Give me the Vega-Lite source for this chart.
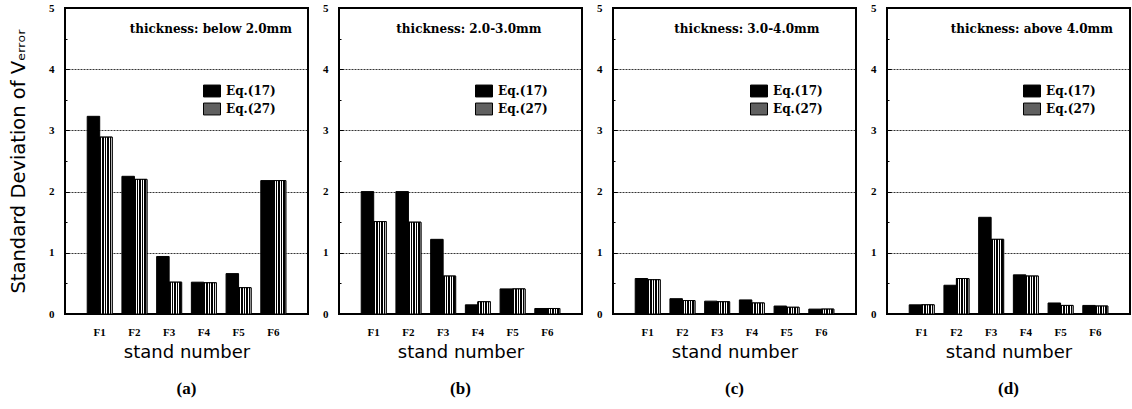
{
  "$schema": "https://vega.github.io/schema/vega-lite/v6.json",
  "padding": {"left": 7, "top": 1, "right": 0, "bottom": 0},
  "background": "white",
  "spacing": 12,
  "datasets": {
    "a": [
      {"stand": "F1", "eq": "Eq.(17)", "sd": 3.23}, {"stand": "F1", "eq": "Eq.(27)", "sd": 2.89},
      {"stand": "F2", "eq": "Eq.(17)", "sd": 2.25}, {"stand": "F2", "eq": "Eq.(27)", "sd": 2.20},
      {"stand": "F3", "eq": "Eq.(17)", "sd": 0.94}, {"stand": "F3", "eq": "Eq.(27)", "sd": 0.52},
      {"stand": "F4", "eq": "Eq.(17)", "sd": 0.52}, {"stand": "F4", "eq": "Eq.(27)", "sd": 0.51},
      {"stand": "F5", "eq": "Eq.(17)", "sd": 0.66}, {"stand": "F5", "eq": "Eq.(27)", "sd": 0.43},
      {"stand": "F6", "eq": "Eq.(17)", "sd": 2.18}, {"stand": "F6", "eq": "Eq.(27)", "sd": 2.18}
    ],
    "b": [
      {"stand": "F1", "eq": "Eq.(17)", "sd": 2.00}, {"stand": "F1", "eq": "Eq.(27)", "sd": 1.51},
      {"stand": "F2", "eq": "Eq.(17)", "sd": 2.00}, {"stand": "F2", "eq": "Eq.(27)", "sd": 1.50},
      {"stand": "F3", "eq": "Eq.(17)", "sd": 1.22}, {"stand": "F3", "eq": "Eq.(27)", "sd": 0.62},
      {"stand": "F4", "eq": "Eq.(17)", "sd": 0.15}, {"stand": "F4", "eq": "Eq.(27)", "sd": 0.20},
      {"stand": "F5", "eq": "Eq.(17)", "sd": 0.41}, {"stand": "F5", "eq": "Eq.(27)", "sd": 0.41},
      {"stand": "F6", "eq": "Eq.(17)", "sd": 0.09}, {"stand": "F6", "eq": "Eq.(27)", "sd": 0.09}
    ],
    "c": [
      {"stand": "F1", "eq": "Eq.(17)", "sd": 0.58}, {"stand": "F1", "eq": "Eq.(27)", "sd": 0.56},
      {"stand": "F2", "eq": "Eq.(17)", "sd": 0.25}, {"stand": "F2", "eq": "Eq.(27)", "sd": 0.22},
      {"stand": "F3", "eq": "Eq.(17)", "sd": 0.21}, {"stand": "F3", "eq": "Eq.(27)", "sd": 0.20},
      {"stand": "F4", "eq": "Eq.(17)", "sd": 0.23}, {"stand": "F4", "eq": "Eq.(27)", "sd": 0.18},
      {"stand": "F5", "eq": "Eq.(17)", "sd": 0.13}, {"stand": "F5", "eq": "Eq.(27)", "sd": 0.11},
      {"stand": "F6", "eq": "Eq.(17)", "sd": 0.08}, {"stand": "F6", "eq": "Eq.(27)", "sd": 0.08}
    ],
    "d": [
      {"stand": "F1", "eq": "Eq.(17)", "sd": 0.15}, {"stand": "F1", "eq": "Eq.(27)", "sd": 0.15},
      {"stand": "F2", "eq": "Eq.(17)", "sd": 0.47}, {"stand": "F2", "eq": "Eq.(27)", "sd": 0.58},
      {"stand": "F3", "eq": "Eq.(17)", "sd": 1.58}, {"stand": "F3", "eq": "Eq.(27)", "sd": 1.22},
      {"stand": "F4", "eq": "Eq.(17)", "sd": 0.64}, {"stand": "F4", "eq": "Eq.(27)", "sd": 0.62},
      {"stand": "F5", "eq": "Eq.(17)", "sd": 0.18}, {"stand": "F5", "eq": "Eq.(27)", "sd": 0.14},
      {"stand": "F6", "eq": "Eq.(17)", "sd": 0.14}, {"stand": "F6", "eq": "Eq.(27)", "sd": 0.13}
    ]
  },
  "config": {
    "font": "Liberation Serif",
    "view": {"stroke": "black", "strokeWidth": 2},
    "axis": {
      "labelFont": "Liberation Serif", "labelFontWeight": "bold", "labelFontSize": 11, "labelColor": "black",
      "titleFont": "DejaVu Sans", "titleFontWeight": "normal", "titleFontSize": 18, "titleColor": "black",
      "domain": false
    },
    "axisX": {"ticks": false, "labelPadding": 12, "titlePadding": 6, "labelAngle": 0},
    "axisY": {
      "values": [0, 0.2, 0.4, 0.6, 0.8, 1, 1.2, 1.4, 1.6, 1.8, 2, 2.2, 2.4, 2.6, 2.8, 3, 3.2, 3.4, 3.6, 3.8, 4, 4.2, 4.4, 4.6, 4.8, 5],
      "labelExpr": "datum.value % 1 == 0 ? format(datum.value, 'd') : ''",
      "labelOverlap": false,
      "labelPadding": 15,
      "tickColor": "black",
      "grid": true,
      "gridColor": "#111111",
      "gridDash": [2, 1],
      "gridWidth": 1,
      "titleFontSize": 19.5,
      "titlePadding": 20
    },
    "legend": {
      "orient": "none", "legendX": 137, "legendY": 74, "title": null, "padding": 0,
      "symbolType": "M-1,-0.7H1V0.7H-1Z", "symbolSize": 289,
      "symbolStrokeColor": "black", "symbolStrokeWidth": 1, "symbolOpacity": 1,
      "labelFont": "DejaVu Serif", "labelFontWeight": "bold", "labelFontSize": 12, "labelColor": "black",
      "labelOffset": 5, "rowPadding": 1
    },
    "title": {"font": "Liberation Serif", "fontSize": 17, "fontWeight": "bold", "color": "black", "offset": 20}
  },
  "resolve": {"legend": {"color": "independent"}},
  "hconcat": [
    {
      "width": 243, "height": 306,
      "title": {"text": "(a)", "orient": "bottom"},
      "data": {"name": "a"},
      "layer": [
        {
          "mark": {"type": "bar", "stroke": "black", "strokeWidth": 1},
          "encoding": {
            "x": {"field": "stand", "type": "nominal", "scale": {"paddingInner": 0.28, "paddingOuter": 0.64}, "title": "stand number"},
            "xOffset": {"field": "eq", "type": "nominal", "scale": {"domain": ["Eq.(17)", "Eq.(27)"], "paddingInner": 0}},
            "y": {"field": "sd", "type": "quantitative", "scale": {"domain": [0, 5], "nice": false}, "title": "Standard Deviation of Vₑᵣᵣₒᵣ",
              "axis": {"tickSize": {"condition": {"test": "datum.value % 1 == 0", "value": -4}, "value": -2},
                "gridOpacity": {"condition": {"test": "datum.value % 1 == 0 && datum.value > 0 && datum.value < 5", "value": 0.85}, "value": 0}}},
            "color": {"field": "eq", "type": "nominal", "scale": {"domain": ["Eq.(17)", "Eq.(27)"], "range": ["#000000", "#606060"]},
              "legend": {"legendX": 138}}
          }
        },
        {
          "transform": [{"filter": "datum.eq === 'Eq.(27)'"}],
          "mark": {"type": "bar", "stroke": "black", "strokeWidth": 1, "fill": {"gradient": "linear", "x1": 0, "y1": 0, "x2": 1, "y2": 0, "stops": [
            {"offset": 0, "color": "#000000"}, {"offset": 0.12, "color": "#000000"}, {"offset": 0.12, "color": "#ffffff"}, {"offset": 0.2, "color": "#ffffff"},
            {"offset": 0.2, "color": "#000000"}, {"offset": 0.32, "color": "#000000"}, {"offset": 0.32, "color": "#ffffff"}, {"offset": 0.4, "color": "#ffffff"},
            {"offset": 0.4, "color": "#000000"}, {"offset": 0.52, "color": "#000000"}, {"offset": 0.52, "color": "#ffffff"}, {"offset": 0.6, "color": "#ffffff"},
            {"offset": 0.6, "color": "#000000"}, {"offset": 0.72, "color": "#000000"}, {"offset": 0.72, "color": "#ffffff"}, {"offset": 0.8, "color": "#ffffff"},
            {"offset": 0.8, "color": "#000000"}, {"offset": 0.92, "color": "#000000"}, {"offset": 0.92, "color": "#ffffff"}, {"offset": 1, "color": "#ffffff"}]}},
          "encoding": {
            "x": {"field": "stand", "type": "nominal"},
            "xOffset": {"field": "eq", "type": "nominal"},
            "y": {"field": "sd", "type": "quantitative"}
          }
        },
        {
          "data": {"values": [{"note": "thickness:  below  2.0mm"}]},
          "mark": {"type": "text", "font": "DejaVu Serif", "fontWeight": "bold", "fontSize": 12, "dx": 7},
          "encoding": {"x": {"datum": "F4", "type": "nominal"}, "y": {"datum": 4.66, "type": "quantitative"}, "text": {"field": "note"}}
        }
      ]
    },
    {
      "width": 243, "height": 306,
      "title": {"text": "(b)", "orient": "bottom"},
      "data": {"name": "b"},
      "layer": [
        {
          "mark": {"type": "bar", "stroke": "black", "strokeWidth": 1},
          "encoding": {
            "x": {"field": "stand", "type": "nominal", "scale": {"paddingInner": 0.28, "paddingOuter": 0.64}, "title": "stand number"},
            "xOffset": {"field": "eq", "type": "nominal", "scale": {"domain": ["Eq.(17)", "Eq.(27)"], "paddingInner": 0}},
            "y": {"field": "sd", "type": "quantitative", "scale": {"domain": [0, 5], "nice": false}, "title": null,
              "axis": {"tickSize": {"condition": {"test": "datum.value % 1 == 0", "value": -4}, "value": -2},
                "gridOpacity": {"condition": {"test": "datum.value % 1 == 0 && datum.value > 0 && datum.value < 5", "value": 0.85}, "value": 0}}},
            "color": {"field": "eq", "type": "nominal", "scale": {"domain": ["Eq.(17)", "Eq.(27)"], "range": ["#000000", "#606060"]},
              "legend": {"legendX": 136}}
          }
        },
        {
          "transform": [{"filter": "datum.eq === 'Eq.(27)'"}],
          "mark": {"type": "bar", "stroke": "black", "strokeWidth": 1, "fill": {"gradient": "linear", "x1": 0, "y1": 0, "x2": 1, "y2": 0, "stops": [
            {"offset": 0, "color": "#000000"}, {"offset": 0.12, "color": "#000000"}, {"offset": 0.12, "color": "#ffffff"}, {"offset": 0.2, "color": "#ffffff"},
            {"offset": 0.2, "color": "#000000"}, {"offset": 0.32, "color": "#000000"}, {"offset": 0.32, "color": "#ffffff"}, {"offset": 0.4, "color": "#ffffff"},
            {"offset": 0.4, "color": "#000000"}, {"offset": 0.52, "color": "#000000"}, {"offset": 0.52, "color": "#ffffff"}, {"offset": 0.6, "color": "#ffffff"},
            {"offset": 0.6, "color": "#000000"}, {"offset": 0.72, "color": "#000000"}, {"offset": 0.72, "color": "#ffffff"}, {"offset": 0.8, "color": "#ffffff"},
            {"offset": 0.8, "color": "#000000"}, {"offset": 0.92, "color": "#000000"}, {"offset": 0.92, "color": "#ffffff"}, {"offset": 1, "color": "#ffffff"}]}},
          "encoding": {
            "x": {"field": "stand", "type": "nominal"},
            "xOffset": {"field": "eq", "type": "nominal"},
            "y": {"field": "sd", "type": "quantitative"}
          }
        },
        {
          "data": {"values": [{"note": "thickness:  2.0-3.0mm"}]},
          "mark": {"type": "text", "font": "DejaVu Serif", "fontWeight": "bold", "fontSize": 12, "dx": -9},
          "encoding": {"x": {"datum": "F4", "type": "nominal"}, "y": {"datum": 4.66, "type": "quantitative"}, "text": {"field": "note"}}
        }
      ]
    },
    {
      "width": 243, "height": 306,
      "title": {"text": "(c)", "orient": "bottom"},
      "data": {"name": "c"},
      "layer": [
        {
          "mark": {"type": "bar", "stroke": "black", "strokeWidth": 1},
          "encoding": {
            "x": {"field": "stand", "type": "nominal", "scale": {"paddingInner": 0.28, "paddingOuter": 0.64}, "title": "stand number"},
            "xOffset": {"field": "eq", "type": "nominal", "scale": {"domain": ["Eq.(17)", "Eq.(27)"], "paddingInner": 0}},
            "y": {"field": "sd", "type": "quantitative", "scale": {"domain": [0, 5], "nice": false}, "title": null,
              "axis": {"tickSize": {"condition": {"test": "datum.value % 1 == 0", "value": -4}, "value": -2},
                "gridOpacity": {"condition": {"test": "datum.value % 1 == 0 && datum.value > 0 && datum.value < 5", "value": 0.85}, "value": 0}}},
            "color": {"field": "eq", "type": "nominal", "scale": {"domain": ["Eq.(17)", "Eq.(27)"], "range": ["#000000", "#606060"]},
              "legend": {"legendX": 137}}
          }
        },
        {
          "transform": [{"filter": "datum.eq === 'Eq.(27)'"}],
          "mark": {"type": "bar", "stroke": "black", "strokeWidth": 1, "fill": {"gradient": "linear", "x1": 0, "y1": 0, "x2": 1, "y2": 0, "stops": [
            {"offset": 0, "color": "#000000"}, {"offset": 0.12, "color": "#000000"}, {"offset": 0.12, "color": "#ffffff"}, {"offset": 0.2, "color": "#ffffff"},
            {"offset": 0.2, "color": "#000000"}, {"offset": 0.32, "color": "#000000"}, {"offset": 0.32, "color": "#ffffff"}, {"offset": 0.4, "color": "#ffffff"},
            {"offset": 0.4, "color": "#000000"}, {"offset": 0.52, "color": "#000000"}, {"offset": 0.52, "color": "#ffffff"}, {"offset": 0.6, "color": "#ffffff"},
            {"offset": 0.6, "color": "#000000"}, {"offset": 0.72, "color": "#000000"}, {"offset": 0.72, "color": "#ffffff"}, {"offset": 0.8, "color": "#ffffff"},
            {"offset": 0.8, "color": "#000000"}, {"offset": 0.92, "color": "#000000"}, {"offset": 0.92, "color": "#ffffff"}, {"offset": 1, "color": "#ffffff"}]}},
          "encoding": {
            "x": {"field": "stand", "type": "nominal"},
            "xOffset": {"field": "eq", "type": "nominal"},
            "y": {"field": "sd", "type": "quantitative"}
          }
        },
        {
          "data": {"values": [{"note": "thickness:  3.0-4.0mm"}]},
          "mark": {"type": "text", "font": "DejaVu Serif", "fontWeight": "bold", "fontSize": 12, "dx": -5},
          "encoding": {"x": {"datum": "F4", "type": "nominal"}, "y": {"datum": 4.66, "type": "quantitative"}, "text": {"field": "note"}}
        }
      ]
    },
    {
      "width": 243, "height": 306,
      "title": {"text": "(d)", "orient": "bottom"},
      "data": {"name": "d"},
      "layer": [
        {
          "mark": {"type": "bar", "stroke": "black", "strokeWidth": 1},
          "encoding": {
            "x": {"field": "stand", "type": "nominal", "scale": {"paddingInner": 0.28, "paddingOuter": 0.64}, "title": "stand number"},
            "xOffset": {"field": "eq", "type": "nominal", "scale": {"domain": ["Eq.(17)", "Eq.(27)"], "paddingInner": 0}},
            "y": {"field": "sd", "type": "quantitative", "scale": {"domain": [0, 5], "nice": false}, "title": null,
              "axis": {"tickSize": {"condition": {"test": "datum.value % 1 == 0", "value": -4}, "value": -2},
                "gridOpacity": {"condition": {"test": "datum.value % 1 == 0 && datum.value > 0 && datum.value < 5", "value": 0.85}, "value": 0}}},
            "color": {"field": "eq", "type": "nominal", "scale": {"domain": ["Eq.(17)", "Eq.(27)"], "range": ["#000000", "#606060"]},
              "legend": {"legendX": 136}}
          }
        },
        {
          "transform": [{"filter": "datum.eq === 'Eq.(27)'"}],
          "mark": {"type": "bar", "stroke": "black", "strokeWidth": 1, "fill": {"gradient": "linear", "x1": 0, "y1": 0, "x2": 1, "y2": 0, "stops": [
            {"offset": 0, "color": "#000000"}, {"offset": 0.12, "color": "#000000"}, {"offset": 0.12, "color": "#ffffff"}, {"offset": 0.2, "color": "#ffffff"},
            {"offset": 0.2, "color": "#000000"}, {"offset": 0.32, "color": "#000000"}, {"offset": 0.32, "color": "#ffffff"}, {"offset": 0.4, "color": "#ffffff"},
            {"offset": 0.4, "color": "#000000"}, {"offset": 0.52, "color": "#000000"}, {"offset": 0.52, "color": "#ffffff"}, {"offset": 0.6, "color": "#ffffff"},
            {"offset": 0.6, "color": "#000000"}, {"offset": 0.72, "color": "#000000"}, {"offset": 0.72, "color": "#ffffff"}, {"offset": 0.8, "color": "#ffffff"},
            {"offset": 0.8, "color": "#000000"}, {"offset": 0.92, "color": "#000000"}, {"offset": 0.92, "color": "#ffffff"}, {"offset": 1, "color": "#ffffff"}]}},
          "encoding": {
            "x": {"field": "stand", "type": "nominal"},
            "xOffset": {"field": "eq", "type": "nominal"},
            "y": {"field": "sd", "type": "quantitative"}
          }
        },
        {
          "data": {"values": [{"note": "thickness:  above  4.0mm"}]},
          "mark": {"type": "text", "font": "DejaVu Serif", "fontWeight": "bold", "fontSize": 12, "dx": 6},
          "encoding": {"x": {"datum": "F4", "type": "nominal"}, "y": {"datum": 4.66, "type": "quantitative"}, "text": {"field": "note"}}
        }
      ]
    }
  ]
}
